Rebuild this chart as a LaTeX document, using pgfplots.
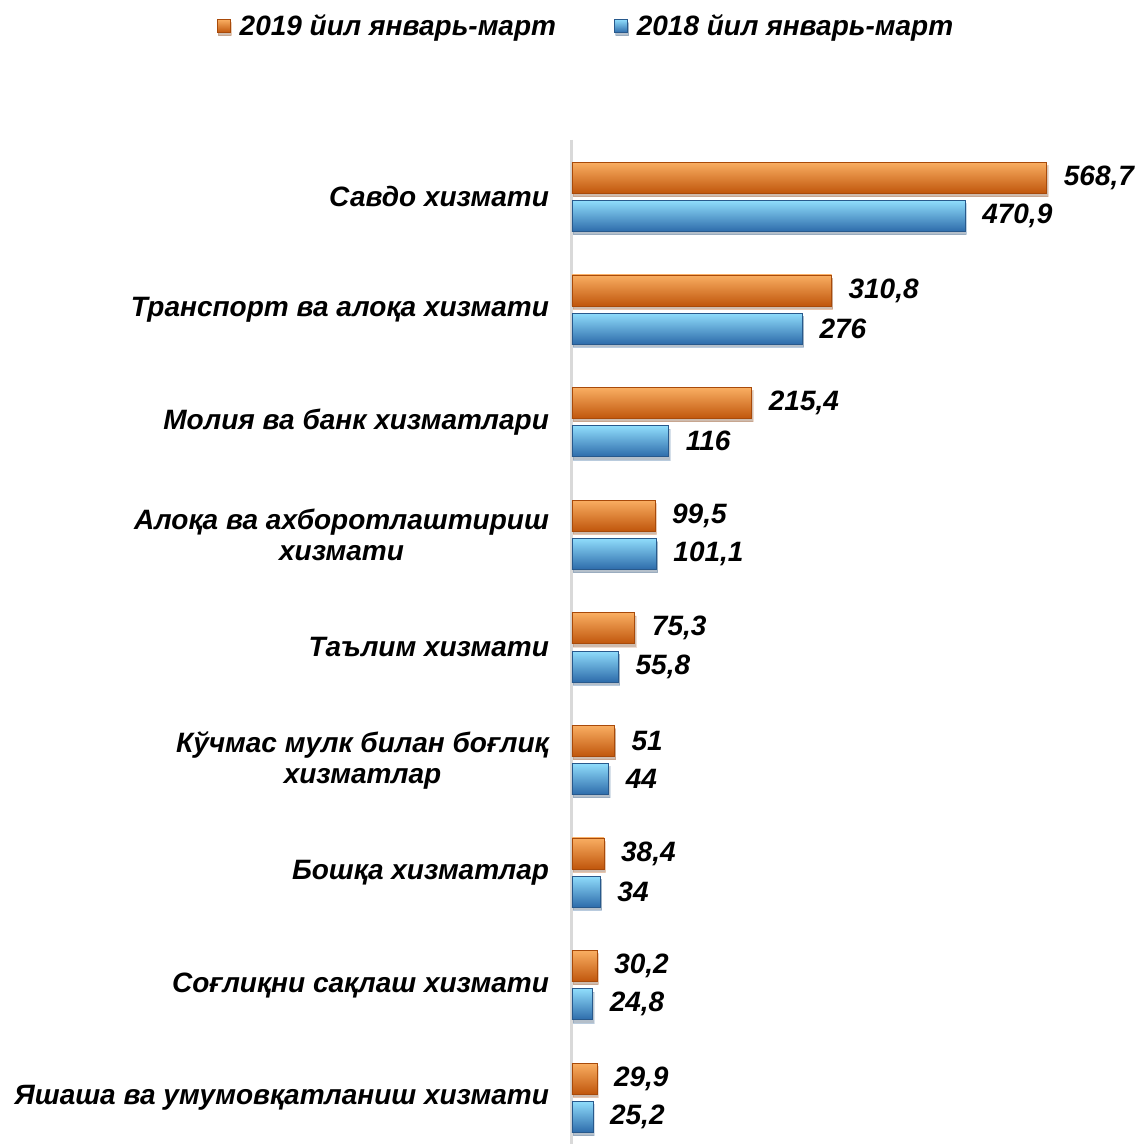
\documentclass[border=0pt]{standalone}
\usepackage{fontspec}
\setmainfont{Liberation Sans}
\usepackage{pgfplots}
\pgfplotsset{compat=1.18}
\usetikzlibrary{shadows}
\definecolor{orTop}{HTML}{F9AE62}
\definecolor{orMid}{HTML}{E8701A}
\definecolor{orBot}{HTML}{C0560C}
\definecolor{orEdge}{HTML}{A84A0A}
\definecolor{blTop}{HTML}{8FDCFB}
\definecolor{blMid}{HTML}{4A9CDE}
\definecolor{blBot}{HTML}{2D6BAA}
\definecolor{blEdge}{HTML}{28598C}
\newcommand{\lblfont}{\fontsize{14pt}{15.5pt}\selectfont\bfseries\itshape}
\pgfplotsset{
  shd/.style={drop shadow={shadow xshift=0.6pt, shadow yshift=-1.6pt, opacity=0.18, fill=black}},
  orbar/.style={bar shift=-0.17, top color=orTop, middle color=orMid, bottom color=orBot, draw=orEdge, line width=0.4pt},
  blbar/.style={bar shift=0.17, top color=blTop, middle color=blMid, bottom color=blBot, draw=blEdge, line width=0.4pt},
}
\begin{document}
\begin{tikzpicture}
\path[use as bounding box] (-286pt,0pt) rectangle (284.5pt,572pt);
\begin{axis}[
  at={(0pt,0pt)}, anchor=south west,
  scale only axis,
  width=250.5pt, height=502pt,
  xmin=0, xmax=600,
  ymin=-0.506, ymax=8.41,
  y dir=reverse,
  axis x line=none,
  axis y line*=left,
  y axis line style={draw=black!15, line width=1.5pt},
  ytick={0,...,8},
  yticklabels={{Савдо хизмати},{Транспорт ва алоқа хизмати},{Молия ва банк хизматлари},{Алоқа ва ахборотлаштириш\\хизмати},{Таълим хизмати},{Кўчмас мулк билан боғлиқ\\хизматлар},{Бошқа хизматлар},{Соғлиқни сақлаш хизмати},{Яшаша ва умумовқатланиш хизмати}},
  yticklabel style={align=center, font=\lblfont, xshift=-8pt},
  major tick length=0pt,
  xbar, bar width=0.275,
  point meta=x,
  nodes near coords,
  nodes near coords style={font=\lblfont, anchor=west, xshift=5pt},
  /pgf/number format/.cd, use comma, assume math mode=true,
  /pgfplots/.cd,
  legend columns=2,
  legend style={at={(0.03,1.1135)}, anchor=center, draw=none, fill=none,
    font=\fontsize{14pt}{16pt}\selectfont\bfseries\itshape,
    /tikz/every even column/.append style={column sep=27pt},
    /tikz/every odd column/.append style={column sep=2.5pt}},
  legend image code/.code={\draw[#1] (0pt,-3.25pt) rectangle (6.5pt,3.25pt);},
  clip=false,
]
% 2019 (orange)
\addplot[orbar, shd] coordinates {(568.7,0)};
\addlegendentry{2019 йил январь-март}
\addplot[orbar, shd, forget plot] coordinates {(310.8,1)};
\addplot[orbar, shd, forget plot] coordinates {(215.4,2)};
\addplot[orbar, shd, forget plot] coordinates {(99.5,3)};
\addplot[orbar, shd, forget plot] coordinates {(75.3,4)};
\addplot[orbar, shd, forget plot] coordinates {(51,5)};
\addplot[orbar, shd, forget plot] coordinates {(38.4,6)};
\addplot[orbar, shd, forget plot] coordinates {(30.2,7)};
\addplot[orbar, shd, forget plot] coordinates {(29.9,8)};
% 2018 (blue)
\addplot[blbar, shd] coordinates {(470.9,0)};
\addlegendentry{2018 йил январь-март}
\addplot[blbar, shd, forget plot] coordinates {(276,1)};
\addplot[blbar, shd, forget plot] coordinates {(116,2)};
\addplot[blbar, shd, forget plot] coordinates {(101.1,3)};
\addplot[blbar, shd, forget plot] coordinates {(55.8,4)};
\addplot[blbar, shd, forget plot] coordinates {(44,5)};
\addplot[blbar, shd, forget plot] coordinates {(34,6)};
\addplot[blbar, shd, forget plot] coordinates {(24.8,7)};
\addplot[blbar, shd, forget plot] coordinates {(25.2,8)};
\end{axis}
\end{tikzpicture}
\end{document}
